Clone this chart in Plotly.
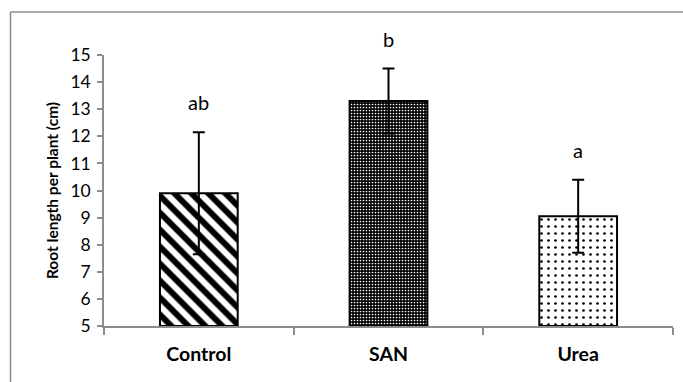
import plotly.graph_objects as go

categories = ["Control", "SAN", "Urea"]
means = [9.9, 13.3, 9.05]
errors = [2.25, 1.2, 1.35]
letters = ["ab", "b", "a"]
y_ticks = [5, 6, 7, 8, 9, 10, 11, 12, 13, 14, 15]

patterns = [
    dict(shape="\\", fgcolor="black", bgcolor="white", fgopacity=1, size=12, solidity=0.5, fillmode="overlay"),
    dict(shape=".", fgcolor="white", bgcolor="black", fgopacity=1, size=3, solidity=0.25, fillmode="overlay"),
    dict(shape=".", fgcolor="black", bgcolor="white", fgopacity=1, size=7, solidity=0.12, fillmode="overlay"),
]
bar_colors = ["white", "black", "white"]

fig = go.Figure()
for i, c in enumerate(categories):
    fig.add_trace(go.Bar(
        x=[c], y=[means[i] - 5], base=5,
        marker=dict(color=bar_colors[i], line=dict(color="black", width=2), pattern=patterns[i]),
        error_y=dict(type="data", array=[errors[i]], color="black", thickness=2, width=6),
        width=0.41, showlegend=False,
    ))

for i, c in enumerate(categories):
    fig.add_annotation(x=c, y=means[i] + errors[i], text=letters[i], showarrow=False,
                       yanchor="bottom", yshift=16, font=dict(size=20, color="black", family="Lato"))

W, H = 683, 382
l, r, t, b = 104, 10, 55, 56
pw, ph = W - l - r, H - t - b
def px2x(p): return (p - l) / pw
def py2y(p): return (H - b - p) / ph
fig.add_shape(type="line", xref="paper", yref="paper",
              x0=px2x(10.5), x1=px2x(690), y0=py2y(12), y1=py2y(12),
              line=dict(color="#8c8c8c", width=1.5))
fig.add_shape(type="line", xref="paper", yref="paper",
              x0=px2x(10.5), x1=px2x(10.5), y0=py2y(12), y1=py2y(390),
              line=dict(color="#8c8c8c", width=1.5))

fig.update_layout(
    width=W, height=H, margin=dict(l=l, r=r, t=t, b=b),
    plot_bgcolor="white", paper_bgcolor="white",
    font=dict(family="Lato", color="black"),
)
fig.update_yaxes(range=[5, 15], tickvals=y_ticks, showgrid=False, zeroline=False,
                 showline=True, linecolor="#8c8c8c", linewidth=1.5,
                 ticks="outside", ticklen=5, tickcolor="#8c8c8c", tickwidth=1.5,
                 tickfont=dict(size=17.5, family="Lato"), ticklabelstandoff=3,
                 title=dict(text="<b>Root length per plant (cm)</b>", font=dict(size=15.5, family="Lato"), standoff=8))
fig.update_xaxes(showgrid=False, showline=True, linecolor="#8c8c8c", linewidth=1.5,
                 ticks="outside", tickson="boundaries", ticklen=7, tickcolor="#8c8c8c", tickwidth=1.5,
                 tickfont=dict(size=19.5, family="Lato"), ticklabelstandoff=10,
                 tickvals=categories, ticktext=["<b>%s</b>" % c for c in categories])

fig.write_html("out.html", config={"displayModeBar": False})
